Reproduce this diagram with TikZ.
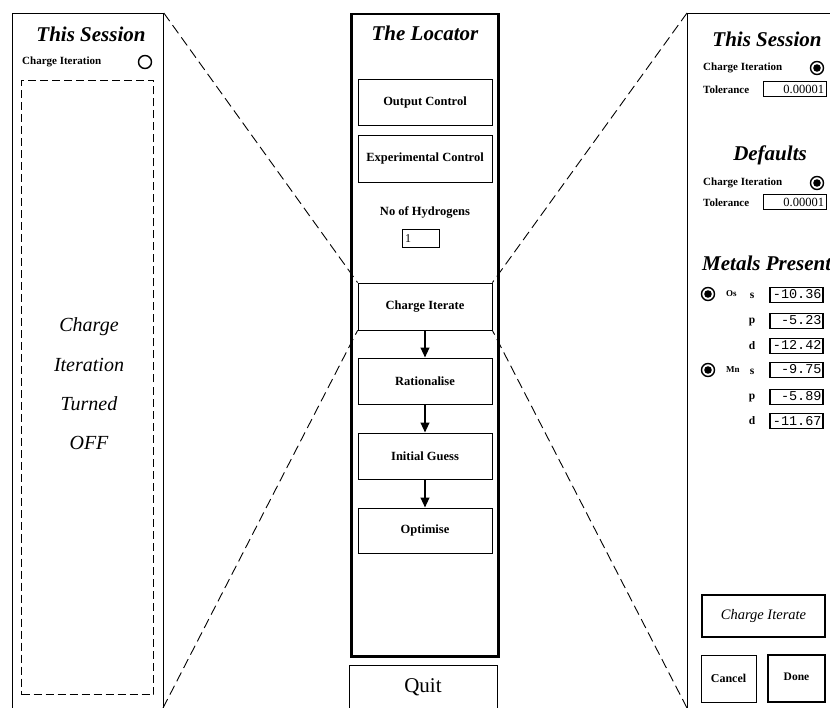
\documentclass[tikz,border=0pt]{standalone}
\usepackage{fontspec}
\setmainfont{Liberation Serif}
\setmonofont{Liberation Mono}
\usetikzlibrary{arrows.meta}
\begin{document}
\begin{tikzpicture}[x=1pt,y=-1pt,
  panel/.style={draw, line width=0.8pt, inner sep=0, anchor=north west},
  title/.style={inner sep=0, font=\fontsize{21}{21}\selectfont\bfseries\itshape},
  offtext/.style={inner sep=0, font=\fontsize{20}{20}\selectfont\itshape},
  btn/.style={draw, line width=0.8pt, minimum width=134pt, minimum height=46pt,
    inner sep=0, font=\fontsize{12.5}{12.5}\selectfont\bfseries},
  lab/.style={anchor=west, inner sep=0, font=\fontsize{11}{11}\selectfont\bfseries},
  orb/.style={inner sep=0, font=\fontsize{11.5}{11.5}\selectfont\bfseries},
  metal/.style={anchor=west, inner sep=0, font=\fontsize{9}{9}\selectfont\bfseries},
  radio/.style={circle, draw, line width=1.4pt, minimum size=13pt, inner sep=0},
  radioon/.style={radio, path picture={\fill (path picture bounding box.center) circle (3.8pt);}},
  tolbox/.style={draw, line width=1pt, minimum height=15pt, inner xsep=2pt, inner ysep=0,
    text width=59pt, align=right, font=\fontsize{12.5}{12.5}\selectfont},
  valbox/.style={draw, line width=1.3pt, minimum height=15pt, inner xsep=1.5pt, inner ysep=0,
    text width=50pt, align=right, text height=8pt, text depth=0pt,
    font=\fontsize{13.5}{13.5}\ttfamily},
  flow/.style={line width=2.2pt, -{Triangle[width=8.5pt,length=10pt]}},
  zoomline/.style={dash pattern=on 10pt off 5pt, line width=0.9pt},
]
\useasboundingbox (0,0) rectangle (830,708);
\clip (0,0) rectangle (830,708);

% ---------- left panel: session settings with iteration off ----------
\node[panel, minimum width=151pt, minimum height=710pt] (lpanel) at (12,13) {};
\node[title] (ltitle) at (91,34) {This Session};
\node[lab] (lchg) at (22,62) {Charge Iteration};
\node[radio] (lradio) at (145,62) {};
\node[draw, dash pattern=on 8pt off 4pt, line width=1pt, inner sep=0,
      minimum width=132pt, minimum height=614pt, anchor=north west] (loff) at (21,80) {};
\node[offtext] (t1) at (89,327) {Charge};
\node[offtext] (t2) at (89,365) {Iteration};
\node[offtext] (t3) at (89,404) {Turned};
\node[offtext] (t4) at (89,443) {OFF};
\coordinate (lbot) at (163,708);

% ---------- centre panel: the locator ----------
\node[panel, line width=2.5pt, minimum width=147pt, minimum height=642pt] (cpanel) at (350,13) {};
\node[title] (ctitle) at (425,33) {The Locator};
\node[btn] (out) at (425,102) {Output Control};
\node[btn, minimum height=47pt] (exp) at (425,158.5) {Experimental Control};
\node[inner sep=0, font=\fontsize{12.5}{12.5}\selectfont\bfseries] (nh) at (425,212) {No of Hydrogens};
\node[draw, line width=1pt, minimum height=18pt, inner xsep=3pt, inner ysep=0,
      text width=31pt, align=left, font=\fontsize{12}{12}\selectfont] (nhbox) at (420.5,239) {1};
\node[btn, minimum height=47pt] (ci) at (425,306.5) {Charge Iterate};
\node[btn] (rat) at (425,381) {Rationalise};
\node[btn] (ig) at (425,456) {Initial Guess};
\node[btn, minimum height=45pt] (opt) at (425,530.5) {Optimise};
\draw[flow] (ci) -- (rat);
\draw[flow] (rat) -- (ig);
\draw[flow] (ig) -- (opt);
\node[draw, line width=1pt, minimum width=148pt, minimum height=44pt, inner sep=0,
      font=\fontsize{21}{21}\selectfont] (quit) at (423,687) {Quit};

% ---------- right panel: session settings with iteration on ----------
\node[panel, minimum width=173pt, minimum height=710pt] (rpanel) at (687,13) {};
\coordinate (rbot) at (687,708);
\node[title] (rtitle) at (767,39) {This Session};
\node[lab] (rchg1) at (703,68) {Charge Iteration};
\node[radioon] (rradio1) at (817,68) {};
\node[lab] (rtol1) at (703,90) {Tolerance};
\node[tolbox] (rtolv1) at (794.5,89.5) {0.00001};
\node[title] (defs) at (770,155) {Defaults};
\node[lab] (rchg2) at (703,183) {Charge Iteration};
\node[radioon] (rradio2) at (817,183) {};
\node[lab] (rtol2) at (703,203) {Tolerance};
\node[tolbox] (rtolv2) at (794.5,202.5) {0.00001};
\node[title, anchor=west] (metals) at (702,263) {Metals Present};

\node[radioon] (osr) at (708,294) {};
\node[metal] (os) at (726,294) {Os};
\node[orb] (os-s) at (752,296) {s};
\node[valbox] (os-sv) at (796.5,295) {-10.36};
\node[orb] (os-p) at (752,322) {p};
\node[valbox] (os-pv) at (796.5,321) {-5.23};
\node[orb] (os-d) at (752,346) {d};
\node[valbox] (os-dv) at (796.5,346) {-12.42};

\node[radioon] (mnr) at (708,370) {};
\node[metal] (mn) at (726,370) {Mn};
\node[orb] (mn-s) at (752,372) {s};
\node[valbox] (mn-sv) at (796.5,370) {-9.75};
\node[orb] (mn-p) at (752,398) {p};
\node[valbox] (mn-pv) at (796.5,397) {-5.89};
\node[orb] (mn-d) at (752,421) {d};
\node[valbox] (mn-dv) at (796.5,421) {-11.67};

\node[draw, line width=2.5pt, minimum width=123pt, minimum height=42pt, inner sep=0,
      font=\fontsize{14.5}{14.5}\selectfont\itshape] (rci) at (763.5,616) {Charge Iterate};
\node[draw, line width=1pt, minimum width=55pt, minimum height=47pt, inner sep=0,
      font=\fontsize{12}{12}\selectfont\bfseries] (cancel) at (728.5,678.5) {Cancel};
\node[draw, line width=2.5pt, minimum width=57pt, minimum height=47pt, inner sep=0,
      font=\fontsize{11.5}{11.5}\selectfont\bfseries] (done) at (796.5,678.5) {\raisebox{3pt}{Done}};

% ---------- zoom lines from the charge iterate step ----------
\draw[zoomline] (lpanel.north east) -- (ci.north west);
\draw[zoomline] (lbot) -- (ci.south west);
\draw[zoomline] (rpanel.north west) -- (ci.north east);
\draw[zoomline] (rbot) -- (ci.south east);
\end{tikzpicture}
\end{document}
